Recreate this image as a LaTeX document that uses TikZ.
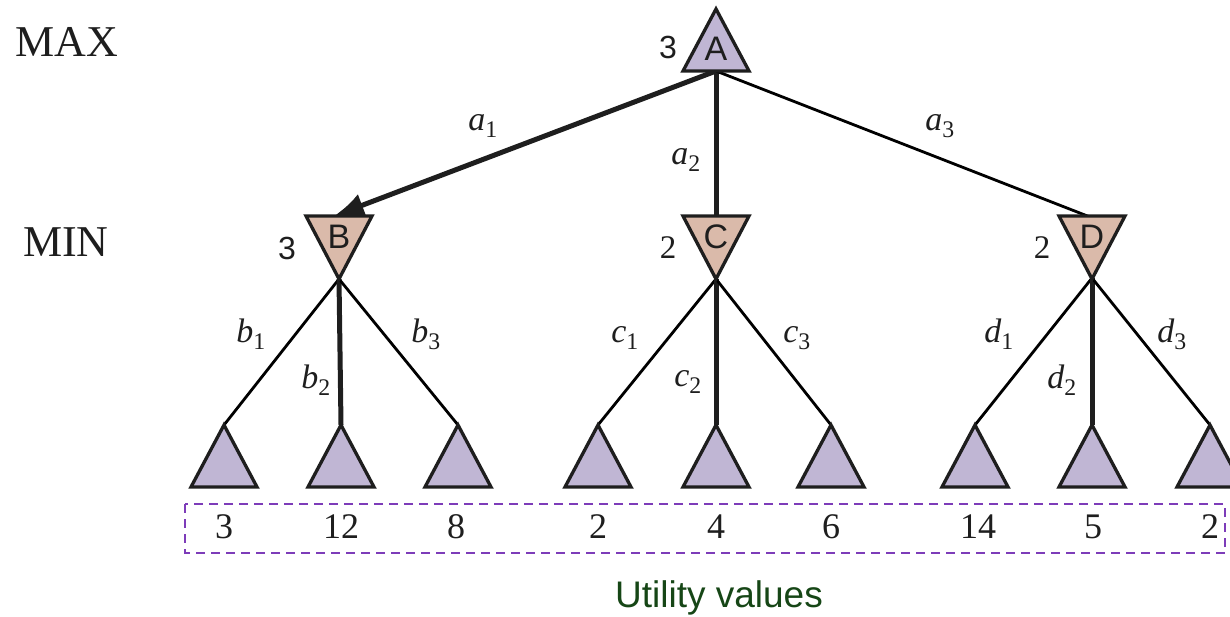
\documentclass[tikz,border=0pt]{standalone}
\usepackage{fontspec}
\setmainfont{Liberation Serif}
\setsansfont{Liberation Sans}
\usetikzlibrary{arrows.meta}
\definecolor{lav}{RGB}{192,182,212}
\definecolor{tan}{RGB}{218,186,170}
\definecolor{boxpurple}{RGB}{125,60,185}
\definecolor{ugreen}{RGB}{22,70,22}
\definecolor{ink}{RGB}{30,30,30}
\newcommand\lbl[2]{\textit{#1}\textsubscript{#2}}
\newcommand\maxtri[3]{\draw[tri,fill=lav] (#1,#2) -- ({#1-#3},{#2+62}) -- ({#1+#3},{#2+62}) -- cycle;}
\newcommand\mintri[3]{\draw[tri,fill=tan] ({#1-#3},#2) -- ({#1+#3},#2) -- (#1,{#2+63}) -- cycle;}
\begin{document}
\begin{tikzpicture}[x=1pt,y=-1pt,
  tri/.style={draw=ink,line width=3.3pt,line join=miter},
  thinedge/.style={draw=black,line width=2.8pt},
  thickedge/.style={draw=ink,line width=5pt},
  lettxt/.style={font=\sffamily\fontsize{34}{34}\selectfont,text=ink,inner sep=0pt},
  valtxt/.style={font=\sffamily\fontsize{32}{32}\selectfont,text=ink,inner sep=0pt},
  sval/.style={font=\fontsize{33}{33}\selectfont,text=ink,inner sep=0pt},
  edgelbl/.style={font=\fontsize{34}{34}\selectfont,text=ink,inner sep=0pt},
  utxt/.style={font=\fontsize{36}{36}\selectfont,text=ink,inner sep=0pt},
  lvl/.style={font=\fontsize{44}{44}\selectfont,text=ink,inner sep=0pt}]
\useasboundingbox (0,0) rectangle (1230,617);

% coordinates
\coordinate (Abot) at (716,71);
\coordinate (Btop) at (334,216);
\coordinate (Ctop) at (716,215);
\coordinate (Dtop) at (1090,217);
\coordinate (Bbot) at (339,279);
\coordinate (Cbot) at (716,279);
\coordinate (Dbot) at (1092,278);
\coordinate (l1) at (224,425);
\coordinate (l2) at (341,425);
\coordinate (l3) at (458,425);
\coordinate (l4) at (598,425);
\coordinate (l5) at (716,425);
\coordinate (l6) at (831,425);
\coordinate (l7) at (975,425);
\coordinate (l8) at (1092,425);
\coordinate (l9) at (1210,425);

% edges
\draw[thickedge,-{Latex[length=30pt,width=24pt]}] (Abot) -- (Btop);
\draw[thickedge] (Abot) -- (Ctop);
\draw[thinedge] (Abot) -- (Dtop);
\draw[thinedge] (Bbot) -- (l1);
\draw[thickedge] (Bbot) -- (l2);
\draw[thinedge] (Bbot) -- (l3);
\draw[thinedge] (Cbot) -- (l4);
\draw[thickedge] (Cbot) -- (l5);
\draw[thinedge] (Cbot) -- (l6);
\draw[thinedge] (Dbot) -- (l7);
\draw[thickedge] (Dbot) -- (l8);
\draw[thinedge] (Dbot) -- (l9);

% triangles
\maxtri{716}{9}{33}
\mintri{339}{216}{33}
\mintri{716}{216}{33}
\mintri{1092}{216}{33}
\maxtri{224}{425}{33}
\maxtri{341}{425}{33}
\maxtri{458}{425}{33}
\maxtri{598}{425}{33}
\maxtri{716}{425}{33}
\maxtri{831}{425}{33}
\maxtri{975}{425}{33}
\maxtri{1092}{425}{33}
\maxtri{1210}{425}{33}

% node letters
\node[lettxt] (A) at (716,49) {A};
\node[lettxt] (B) at (339,237) {B};
\node[lettxt] (C) at (716,237) {C};
\node[lettxt] (D) at (1092,237) {D};

% values
\node[valtxt] (vA) at (668,47) {3};
\node[valtxt] (vB) at (287,248) {3};
\node[sval] (vC) at (668,248) {2};
\node[sval] (vD) at (1042,248) {2};

% level labels
\node[lvl] (max) at (67,42) {MAX};
\node[lvl] (min) at (66,242) {MIN};

% edge labels
\node[edgelbl] (la1) at (483,126) {\lbl{a}{1}};
\node[edgelbl] (la2) at (686,160) {\lbl{a}{2}};
\node[edgelbl] (la3) at (940,126) {\lbl{a}{3}};
\node[edgelbl] (lb1) at (251,334) {\lbl{b}{1}};
\node[edgelbl] (lb2) at (316,380) {\lbl{b}{2}};
\node[edgelbl] (lb3) at (426,334) {\lbl{b}{3}};
\node[edgelbl] (lc1) at (625,338) {\lbl{c}{1}};
\node[edgelbl] (lc2) at (688,382) {\lbl{c}{2}};
\node[edgelbl] (lc3) at (797,338) {\lbl{c}{3}};
\node[edgelbl] (ld1) at (999,334) {\lbl{d}{1}};
\node[edgelbl] (ld2) at (1062,380) {\lbl{d}{2}};
\node[edgelbl] (ld3) at (1172,334) {\lbl{d}{3}};

% utility box
\draw[boxpurple,line width=2pt,dash pattern=on 9pt off 6pt] (185,504) rectangle (1225,553);
\node[utxt] (u1) at (224,527) {3};
\node[utxt] (u2) at (341,527) {12};
\node[utxt] (u3) at (456,527) {8};
\node[utxt] (u4) at (598,527) {2};
\node[utxt] (u5) at (716,527) {4};
\node[utxt] (u6) at (831,527) {6};
\node[utxt] (u7) at (978,527) {14};
\node[utxt] (u8) at (1093,527) {5};
\node[utxt] (u9) at (1210,527) {2};

\node[font=\sffamily\fontsize{37}{37}\selectfont,text=ugreen,inner sep=0pt] (util) at (719,598) {Utility values};
\end{tikzpicture}
\end{document}
